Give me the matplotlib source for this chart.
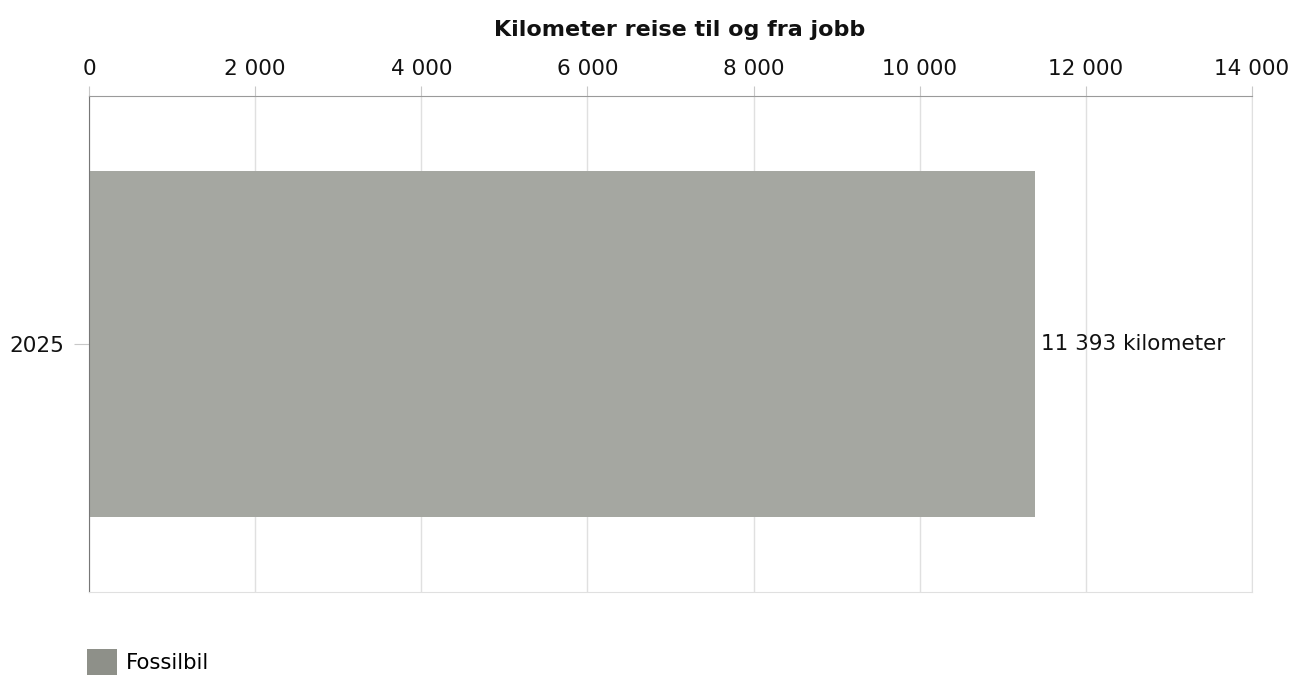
import matplotlib
matplotlib.use("Agg")
import matplotlib.pyplot as plt
from matplotlib.patches import Patch
from matplotlib.ticker import FuncFormatter

categories = ["2025"]
series_name = "Fossilbil"
values = [11393]
x_ticks = [0, 2000, 4000, 6000, 8000, 10000, 12000, 14000]
title = "Kilometer reise til og fra jobb"

def fmt(v, pos=None):
    return f"{int(v):,}".replace(",", " ")

plt.rcParams['font.family'] = ['DejaVu Sans']
fig = plt.figure(figsize=(12.95, 6.77), dpi=100)
ax = fig.add_axes([89/1295, 1-592/677, (1252-89)/1295, (592-96)/677])

bar_color = "#a5a7a1"
legend_color = "#8e9089"
ax.barh(categories, values, height=0.697, color=bar_color, zorder=2)
ax.set_ylim(-0.5, 0.5)
ax.set_xlim(0, 14000)
ax.set_xticks(x_ticks)
ax.xaxis.set_major_formatter(FuncFormatter(fmt))
ax.xaxis.tick_top()
ax.grid(axis='x', color="#e0e0e0", linewidth=1, zorder=0)
for s in ['bottom', 'right']:
    ax.spines[s].set_color("#e0e0e0")
ax.spines['top'].set_color("#9a9a9a")
ax.spines['left'].set_color("#777777")
ax.tick_params(axis='x', which='both', length=7, color="#c8c8c8", labelsize=15.5, pad=5, labelcolor="#111111")
ax.tick_params(axis='y', length=11, color="#c8c8c8", labelsize=15.5, pad=7, labelcolor="#111111")

for i, v in enumerate(values):
    ax.text(v + 70, i, fmt(v) + " kilometer", va='center', ha='left', fontsize=15.5, color="#111111", zorder=3)

fig.text(680/1295, 1-30/677, title, ha='center', va='center', fontsize=16, fontweight='bold', color="#111111")

handles = [Patch(facecolor=legend_color, edgecolor='none', label=series_name)]
fig.legend(handles=handles, loc='upper left', bbox_to_anchor=(79/1295, 1-641/677), frameon=False,
           fontsize=15.2, handlelength=1.4, handleheight=1.45, handletextpad=0.4, borderaxespad=0)

fig.savefig("out.png", dpi=100)
